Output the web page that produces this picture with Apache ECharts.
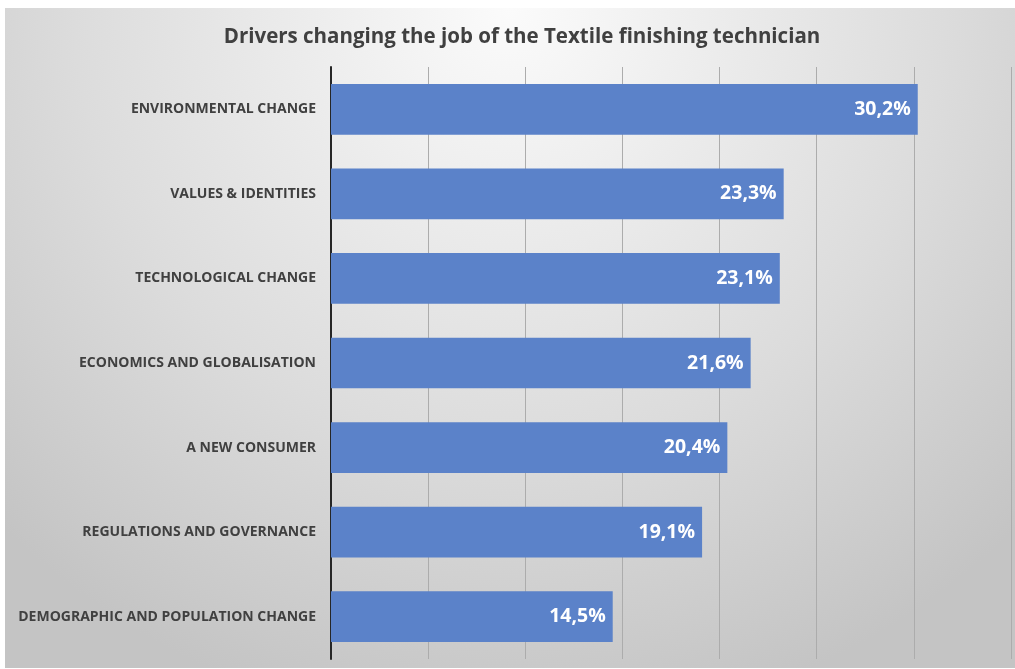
<!DOCTYPE html>
<html>
<head>
<meta charset="utf-8">
<script src="https://cdn.jsdelivr.net/npm/echarts@6/dist/echarts.min.js"></script>
<style>
  html, body { margin: 0; padding: 0; background: #fff; }
  #chart { position: absolute; left: 5px; top: 8px; width: 1010px; height: 660px; }
</style>
</head>
<body>
<div id="chart"></div>
<script>
// data, top to bottom as shown
const categories = [
    'ENVIRONMENTAL CHANGE',
    'VALUES & IDENTITIES',
    'TECHNOLOGICAL CHANGE',
    'ECONOMICS AND GLOBALISATION',
    'A NEW CONSUMER',
    'REGULATIONS AND GOVERNANCE',
    'DEMOGRAPHIC AND POPULATION CHANGE'
]
const values = [30.2, 23.3, 23.1, 21.6, 20.4, 19.1, 14.5]
const titleText = 'Drivers changing the job of the Textile finishing technician'

const chart = echarts.init(document.getElementById('chart'))

const option = {
    backgroundColor: {
        type: 'radial',
        x: 0.5,
        y: 0,
        r: 1.1,
        colorStops: [
            { offset: 0, color: '#fbfbfb' },
            { offset: 0.6, color: '#dcdcdc' },
            { offset: 1, color: '#c4c4c4' }
        ]
    },
    title: {
        text: titleText,
        left: 512,
        textAlign: 'center',
        top: 14,
        textStyle: {
            fontFamily: 'Open Sans',
            fontWeight: 'bold',
            fontSize: 20.5,
            color: '#404040'
        }
    },
    grid: {
        left: 326,
        right: 4,
        top: 59,
        bottom: 9
    },
    xAxis: {
        type: 'value',
        min: 0,
        max: 35,
        interval: 5,
        axisLabel: { show: false },
        axisLine: { show: false },
        axisTick: { show: false },
        splitLine: { lineStyle: { color: '#acacac', width: 1 } }
    },
    yAxis: {
        type: 'category',
        inverse: true,
        data: categories,
        axisLine: { lineStyle: { color: '#262626', width: 2 } },
        axisTick: { show: false },
        axisLabel: {
            margin: 15,
            fontFamily: 'Open Sans',
            fontWeight: 'bold',
            fontSize: 14,
            color: '#404040'
        }
    },
    series: [
        {
            type: 'bar',
            data: values,
            barWidth: '60%',
            itemStyle: { color: '#5b82c9' },
            label: {
                show: true,
                position: 'insideRight',
                distance: 7,
                formatter: p => p.value.toFixed(1).replace('.', ',') + '%',
                fontFamily: 'Open Sans',
                fontWeight: 'bold',
                fontSize: 19.5,
                color: '#ffffff'
            }
        }
    ]
}

chart.setOption(option)
</script>
</body>
</html>
